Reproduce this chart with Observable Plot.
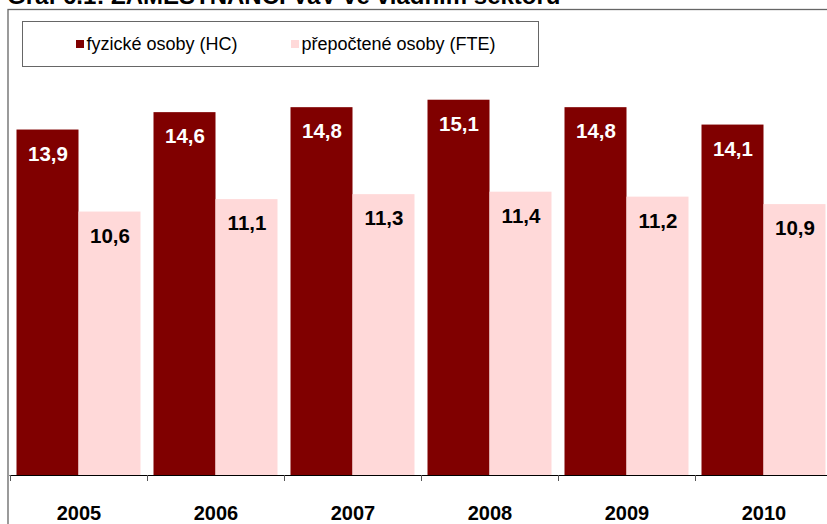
<!DOCTYPE html>
<html>
<head>
<meta charset="utf-8">
<script src="https://cdn.jsdelivr.net/npm/d3@7"></script>
<script src="https://cdn.jsdelivr.net/npm/@observablehq/plot@0.6"></script>
<style>
  html, body { margin: 0; padding: 0; background: #fff; overflow: hidden; }
  #wrap { position: relative; width: 827px; height: 524px; overflow: hidden; font-family: "Liberation Sans", Arial, sans-serif; }
  #title { position: absolute; left: 7px; top: -16px; font-size: 24px; line-height: 24px; font-weight: bold; white-space: nowrap; color: #000; }
  #legend { position: absolute; left: 21.5px; top: 21px; width: 515px; height: 44px; border: 1px solid #666; background: #fff; }
  .item { position: absolute; top: 0; height: 44px; display: flex; align-items: center; font-size: 18px; color: #000; white-space: nowrap; }
  .sw { width: 8px; height: 8px; margin-right: 3px; display: inline-block; }
  #chart { position: absolute; left: 0; top: 0; }
</style>
</head>
<body>
<div id="wrap">
  <div id="chart"></div>
  <div id="title"></div>
  <div id="legend"></div>
</div>
<script>
const titleText = "Graf 6.1: ZAMĚSTNANCI VaV ve vládním sektoru";
const years = ["2005", "2006", "2007", "2008", "2009", "2010"];
const hc = [13.9, 14.6, 14.8, 15.1, 14.8, 14.1];
const fte = [10.6, 11.1, 11.3, 11.4, 11.2, 10.9];
const seriesNames = ["fyzické osoby (HC)", "přepočtené osoby (FTE)"];
const seriesColors = ["#800000", "#ffd9d9"];
const labelColors = ["#ffffff", "#000000"];

const rows = years.map((year, i) => ({year, hc: hc[i], fte: fte[i]}));
const fmt = v => v.toFixed(1).replace(".", ",");
const font = "'Liberation Sans', Arial, sans-serif";

const chart = Plot.plot({
  width: 827,
  height: 524,
  marginTop: 9,
  marginBottom: 49,
  marginLeft: 9.5,
  marginRight: -4.5,
  style: {fontFamily: font, background: "white", overflow: "hidden"},
  x: {domain: years, padding: 0, axis: null, label: null},
  y: {domain: [0, 18.75], axis: null},
  marks: [
    Plot.frame({stroke: "#666", strokeWidth: 1.3, insetLeft: -2, insetBottom: -60}),
    Plot.barY(rows, {x: "year", y: "hc", fill: seriesColors[0], insetLeft: 6.5, insetRight: 68.5}),
    Plot.barY(rows, {x: "year", y: "fte", fill: seriesColors[1], insetLeft: 68.5, insetRight: 6.5}),
    Plot.ruleY([0], {stroke: "#000", strokeWidth: 1.2}),
    Plot.axisX({tickSize: 6, text: null, dx: -68.5, stroke: "#555", label: null}),
    Plot.axisX({tickSize: 0, tickPadding: 30, fontSize: 20, fontWeight: "bold", fill: "#000", label: null}),
    Plot.text(rows, {x: "year", y: "hc", text: d => fmt(d.hc), dx: -31, dy: 24, fill: labelColors[0], fontSize: 20.5, fontWeight: "bold"}),
    Plot.text(rows, {x: "year", y: "fte", text: d => fmt(d.fte), dx: 31, dy: 24, fill: labelColors[1], fontSize: 20.5, fontWeight: "bold"})
  ]
});
document.getElementById("chart").appendChild(chart);
document.getElementById("title").textContent = titleText;

const legend = document.getElementById("legend");
const itemLefts = [53, 268];
seriesNames.forEach((name, i) => {
  const it = document.createElement("div");
  it.className = "item";
  it.style.left = itemLefts[i] + "px";
  const sw = document.createElement("span");
  sw.className = "sw";
  sw.style.background = seriesColors[i];
  it.appendChild(sw);
  it.appendChild(document.createTextNode(name));
  legend.appendChild(it);
});
</script>
</body>
</html>
